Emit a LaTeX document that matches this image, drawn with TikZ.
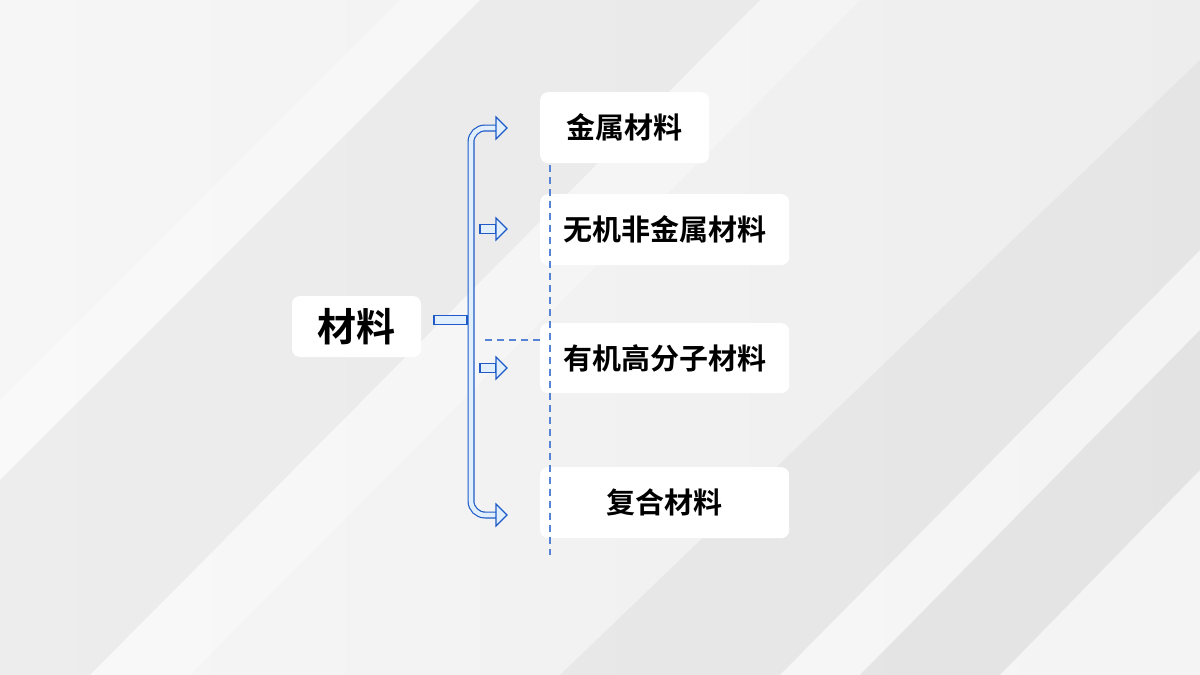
\documentclass[tikz,border=0pt]{standalone}
\usepackage{fontspec}
\newfontfamily\cjk{Noto Sans CJK SC}[BoldFont={Noto Sans CJK SC Bold}]
\usetikzlibrary{positioning}
\definecolor{bandblue}{RGB}{30,90,200}
\definecolor{bandfill}{RGB}{225,238,252}
\tikzset{
	itembox/.style={fill=white, rounded corners=8pt, font=\cjk\bfseries\fontsize{29}{34}\selectfont, inner sep=0pt},
	headtip/.style={draw=bandblue, fill=bandfill, line width=1.2pt, line join=miter},
	guide/.style={bandblue!75, dashed, dash pattern=on 7pt off 5pt, line width=1.2pt}
}
\newcommand{\tipat}[1]{\path[headtip] (#1) ++(-11,-6) -- ++(0,-5) -- ++(11,11) -- ++(-11,11) -- ++(0,-5) -- cycle;}
\begin{document}
\begin{tikzpicture}[x=1pt, y=-1pt]
	\useasboundingbox (0,0) rectangle (1200,675);
	% background
	\shade[left color=gray!7, right color=gray!14] (0,0) rectangle (1200,675);
	\fill[gray!20, opacity=0.5] (0,480) -- (480,0) -- (760,0) -- (90,675) -- (0,675) -- cycle;
	\fill[white, opacity=0.35] (0,400) -- (400,0) -- (480,0) -- (0,480) -- cycle;
	\fill[gray!25, opacity=0.5] (560,675) -- (1200,60) -- (1200,250) -- (780,675) -- cycle;
	\fill[white, opacity=0.4] (780,675) -- (1200,250) -- (1200,330) -- (860,675) -- cycle;
	\fill[gray!28, opacity=0.5] (860,675) -- (1200,330) -- (1200,470) -- (1000,675) -- cycle;
	\fill[white, opacity=0.4] (1000,675) -- (1200,470) -- (1200,675) -- cycle;
	\fill[white, opacity=0.3] (760,0) -- (860,0) -- (190,675) -- (90,675) -- cycle;
	
	% boxes
	\node[itembox, minimum width=129, minimum height=61, font=\cjk\bfseries\fontsize{39}{44}\selectfont] (root) at (356.5,326.5) {材料};
	\node[itembox, minimum width=169, minimum height=71, anchor=north west] (metal) at (540,92) {金属材料};
	\node[itembox, minimum width=249, minimum height=71, anchor=north west] (inorg) at (540,194) {无机非金属材料};
	\node[itembox, minimum width=249, minimum height=70, anchor=north west] (poly) at (540,323) {有机高分子材料};
	\node[itembox, minimum width=249, minimum height=71, anchor=north west] (comp) at (540,467) {复合材料};
	
	% guides
	\draw[guide] (550,165) -- (550,555);
	\draw[guide] (485,340) -- (poly.west |- 0,340);
	
	% bracket
	\coordinate (top) at (496,128);
	\coordinate (bot) at (496,515);
	\draw[bandblue, line width=7pt, rounded corners=14pt] (top) -| (471,320) |- (bot);
	\draw[bandfill, line width=4.6pt, rounded corners=14pt] (top) -| (471,320) |- (bot);
	\draw[bandblue, line width=1.2pt, fill=bandfill] (434,315.5) rectangle (467,324.5);
	\foreach \yy in {229,368}{
		\draw[bandblue, line width=1.2pt, fill=bandfill] (480,\yy-4.5) rectangle (496,\yy+4.5);
	}
	\foreach \yy in {128,229,368,515}{
		\coordinate (tip) at (507,\yy);
		\tipat{tip}
	}
\end{tikzpicture}
\end{document}
